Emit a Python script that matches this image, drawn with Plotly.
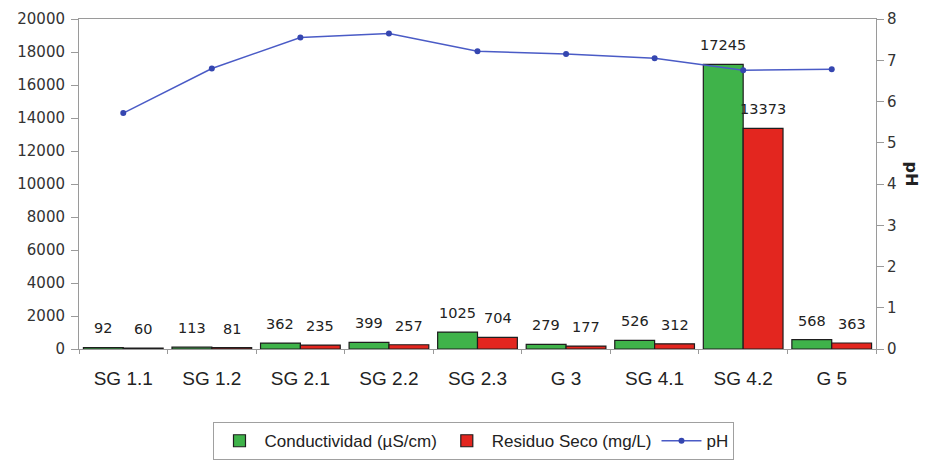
import plotly.graph_objects as go

# Sampling points
estaciones = ["SG 1.1", "SG 1.2", "SG 2.1", "SG 2.2", "SG 2.3", "G 3", "SG 4.1", "SG 4.2", "G 5"]
conductividad = [92, 113, 362, 399, 1025, 279, 526, 17245, 568]   # µS/cm
residuo_seco = [60, 81, 235, 257, 704, 177, 312, 13373, 363]      # mg/L
ph = [5.72, 6.8, 7.55, 7.65, 7.22, 7.15, 7.05, 6.76, 6.78]

y_ticks = list(range(0, 20001, 2000))
ph_ticks = list(range(0, 9))

VERDE = "#3fb34a"
ROJO = "#e3261f"
AZUL = "#4a5bc6"
BORDE = "#1e1e1e"
EJE = "#9a9a9a"

fig = go.Figure()

fig.add_trace(go.Bar(
    x=estaciones, y=conductividad, name="Conductividad (µS/cm)",
    marker=dict(color=VERDE, line=dict(color=BORDE, width=1.2)),
    yaxis="y",
))
fig.add_trace(go.Bar(
    x=estaciones, y=residuo_seco, name="Residuo Seco (mg/L)",
    marker=dict(color=ROJO, line=dict(color=BORDE, width=1.2)),
    yaxis="y",
))
fig.add_trace(go.Scatter(
    x=estaciones, y=ph, name="pH", mode="lines+markers",
    line=dict(color=AZUL, width=1.5),
    marker=dict(color="#3546b0", size=6),
    yaxis="y2",
))

# value labels above each bar
etiquetas = []
for est, c, r in zip(estaciones, conductividad, residuo_seco):
    for val, dx in ((c, -20), (r, 20)):
        etiquetas.append(dict(
            x=est, y=val, xref="x", yref="y", text=str(val),
            showarrow=False, yanchor="bottom", xshift=dx, yshift=9,
            font=dict(family="DejaVu Sans", size=14.5, color="#222"),
        ))

# right-hand axis title
etiquetas.append(dict(
    x=1.059, y=0.53, xref="paper", yref="paper", text="<b>pH</b>",
    showarrow=False, textangle=90,
    font=dict(family="DejaVu Sans", size=16, color="#222"),
))

fig.update_layout(
    width=938, height=464,
    margin=dict(l=79, r=62, t=19, b=115, autoexpand=False),
    paper_bgcolor="white", plot_bgcolor="white",
    barmode="group", bargap=0.1, bargroupgap=0,
    showlegend=True,
    legend=dict(
        orientation="h", x=0.4956, xanchor="center", y=-0.337, yanchor="bottom",
        bordercolor="#a0a0a0", borderwidth=1, bgcolor="white",
        font=dict(family="Liberation Sans", size=17, color="#222"),
        itemwidth=40, traceorder="normal",
    ),
    xaxis=dict(
        type="category", showline=True, linecolor=EJE, linewidth=1, mirror=True,
        ticks="outside", tickson="boundaries", ticklen=4, tickcolor=EJE,
        showgrid=False, zeroline=False, ticklabelstandoff=12,
        tickfont=dict(family="Liberation Sans", size=19, color="#222"),
    ),
    yaxis=dict(
        range=[0, 20000], tickvals=y_ticks, ticktext=[str(v) for v in y_ticks],
        showline=True, linecolor=EJE, linewidth=1, ticklabelstandoff=3,
        ticks="outside", ticklen=7, tickcolor=EJE, showgrid=False, zeroline=False,
        tickfont=dict(family="DejaVu Sans", size=15, color="#333"),
    ),
    yaxis2=dict(
        range=[0, 8], tickvals=ph_ticks, overlaying="y", side="right",
        showline=True, linecolor=EJE, linewidth=1,
        ticks="outside", ticklen=7, tickcolor=EJE, showgrid=False, zeroline=False,
        tickfont=dict(family="DejaVu Sans", size=15, color="#333"),
    ),
    annotations=etiquetas,
)

fig.write_html("out.html")
